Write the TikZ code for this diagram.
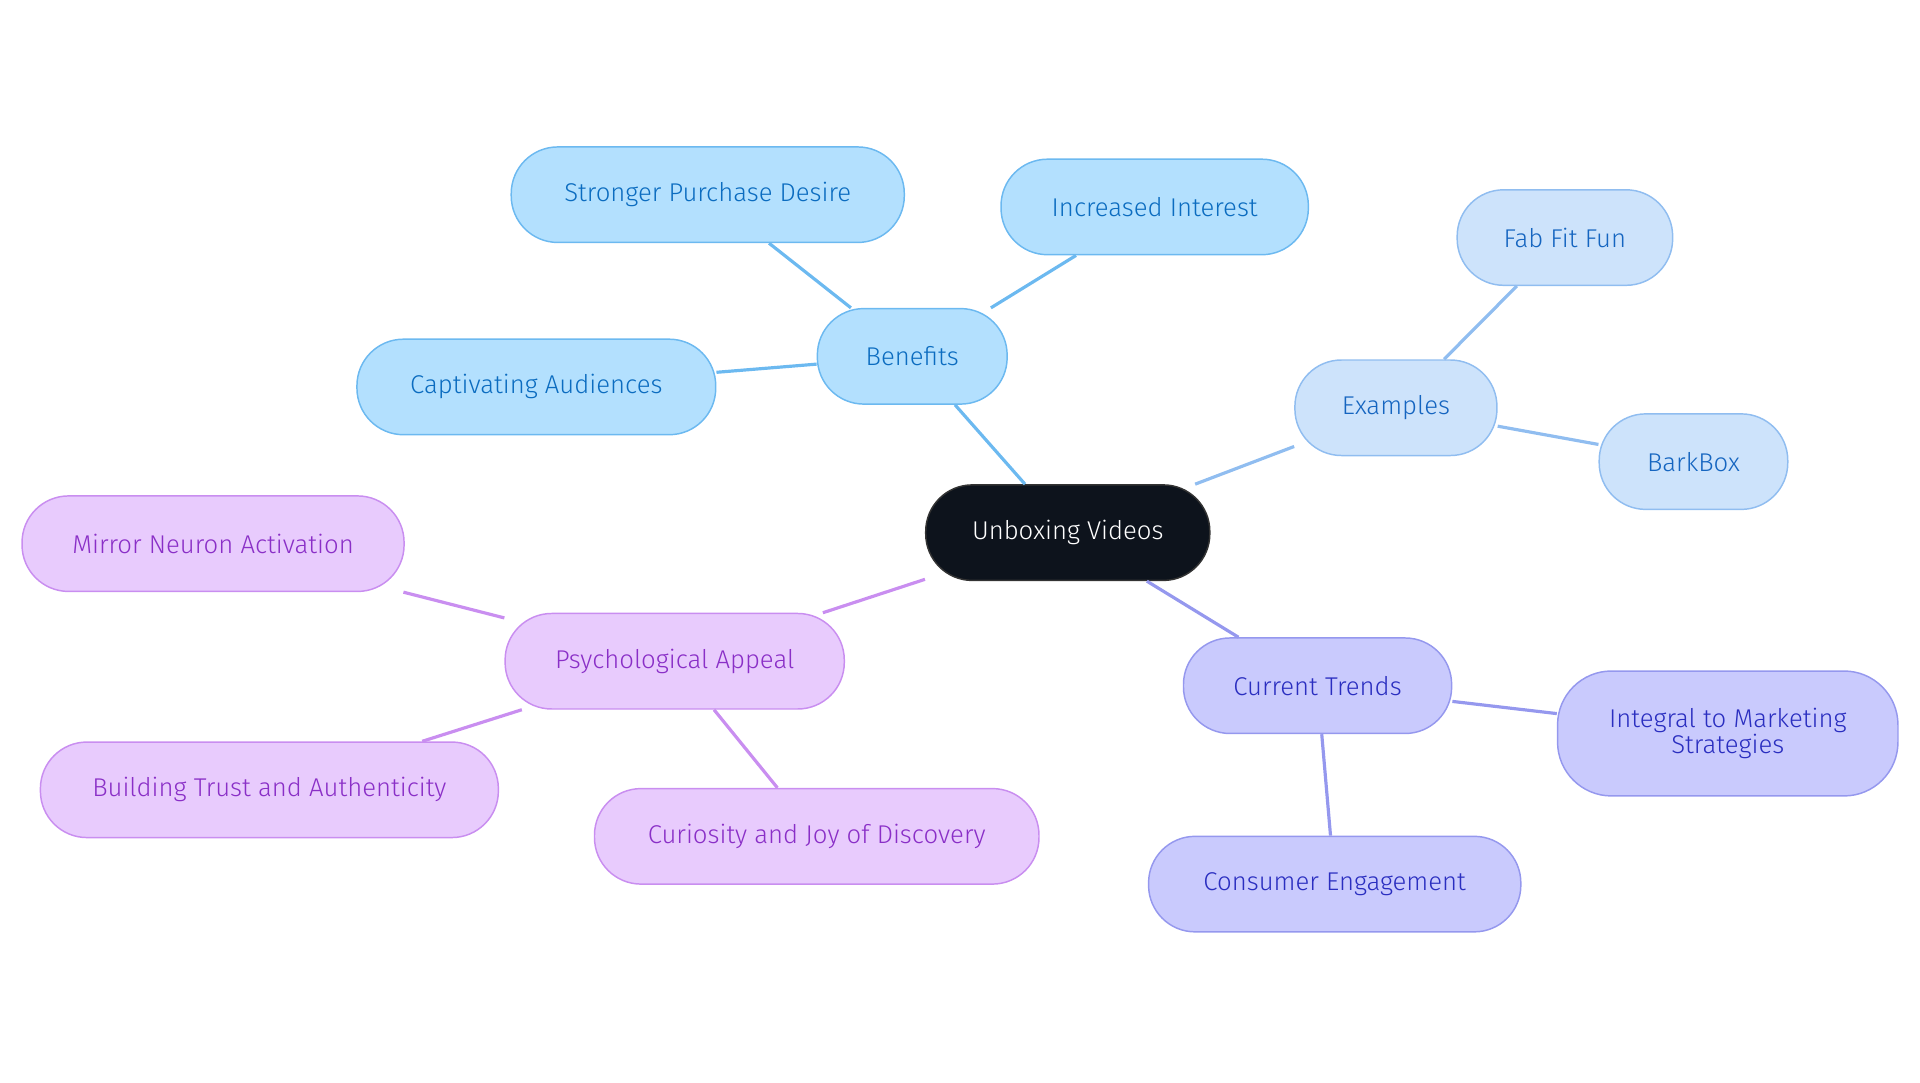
\documentclass[tikz,border=0pt]{standalone}
\usepackage{fontspec}
\setmainfont{Fira Sans}[UprightFont=* Light]
\begin{document}
\begin{tikzpicture}[x=0.5pt,y=-0.5pt,
 base/.style={rounded corners=19pt,minimum height=39pt,inner sep=0pt,align=center,font=\fontsize{10.5pt}{11pt}\selectfont,line width=0.6pt},
 root/.style={base,draw=black!80,text=white},
 bl/.style={base,fill=cBf,draw=cBd,text=cBt},
 ex/.style={base,fill=cEf,draw=cEd,text=cEt},
 pu/.style={base,fill=cPf,draw=cPd,text=cPt},
 ind/.style={base,fill=cIf,draw=cId,text=cIt},
 ed/.style={line width=1.3pt}]
\definecolor{cBf}{HTML}{B3E0FE}\definecolor{cBd}{HTML}{6CB9F0}\definecolor{cBt}{HTML}{0B6CC0}
\definecolor{cEf}{HTML}{CDE3FB}\definecolor{cEd}{HTML}{90BDF0}\definecolor{cEt}{HTML}{1565C0}
\definecolor{cPf}{HTML}{E8CBFD}\definecolor{cPd}{HTML}{C98EF0}\definecolor{cPt}{HTML}{8A2FC7}
\definecolor{cIf}{HTML}{C9CAFD}\definecolor{cId}{HTML}{9598EE}\definecolor{cIt}{HTML}{2A2EC0}
\definecolor{cR}{HTML}{0D131C}
\useasboundingbox (0,0) rectangle (1568,884);
\node[root,minimum width=116pt,fill=cR] (r) at (872,435) {Unboxing Videos};
\node[bl,minimum width=77.5pt] (b) at (745,291) {Benefits};
\node[bl,minimum width=160.5pt] (b1) at (578,159) {Stronger Purchase Desire};
\node[bl,minimum width=125.5pt] (b2) at (943,169) {Increased Interest};
\node[bl,minimum width=146.5pt] (b3) at (438,316) {Captivating Audiences};
\node[ex,minimum width=82.5pt] (e) at (1140,333) {Examples};
\node[ex,minimum width=88pt] (e1) at (1278,194) {Fab Fit Fun};
\node[ex,minimum width=77pt] (e2) at (1383,377) {BarkBox};
\node[pu,minimum width=138.5pt] (p) at (551,540) {Psychological Appeal};
\node[pu,minimum width=156pt] (p1) at (174,444) {Mirror Neuron Activation};
\node[pu,minimum width=187pt] (p2) at (220,645) {Building Trust and Authenticity};
\node[pu,minimum width=181.5pt] (p3) at (667,683) {Curiosity and Joy of Discovery};
\node[ind,minimum width=109.5pt] (c) at (1076,560) {Current Trends};
\node[ind,minimum width=139pt,minimum height=51pt,rounded corners=22pt] (c1) at (1411,599) {Integral to Marketing\\Strategies};
\node[ind,minimum width=152pt] (c2) at (1090,722) {Consumer Engagement};
\draw[ed,cBd] (r) -- (b); \draw[ed,cBd] (b) -- (b1); \draw[ed,cBd] (b) -- (b2); \draw[ed,cBd] (b) -- (b3);
\draw[ed,cEd] (r) -- (e); \draw[ed,cEd] (e) -- (e1); \draw[ed,cEd] (e) -- (e2);
\draw[ed,cPd] (r) -- (p); \draw[ed,cPd] (p) -- (p1); \draw[ed,cPd] (p) -- (p2); \draw[ed,cPd] (p) -- (p3);
\draw[ed,cId] (r) -- (c); \draw[ed,cId] (c) -- (c1); \draw[ed,cId] (c) -- (c2);
\end{tikzpicture}
\end{document}
